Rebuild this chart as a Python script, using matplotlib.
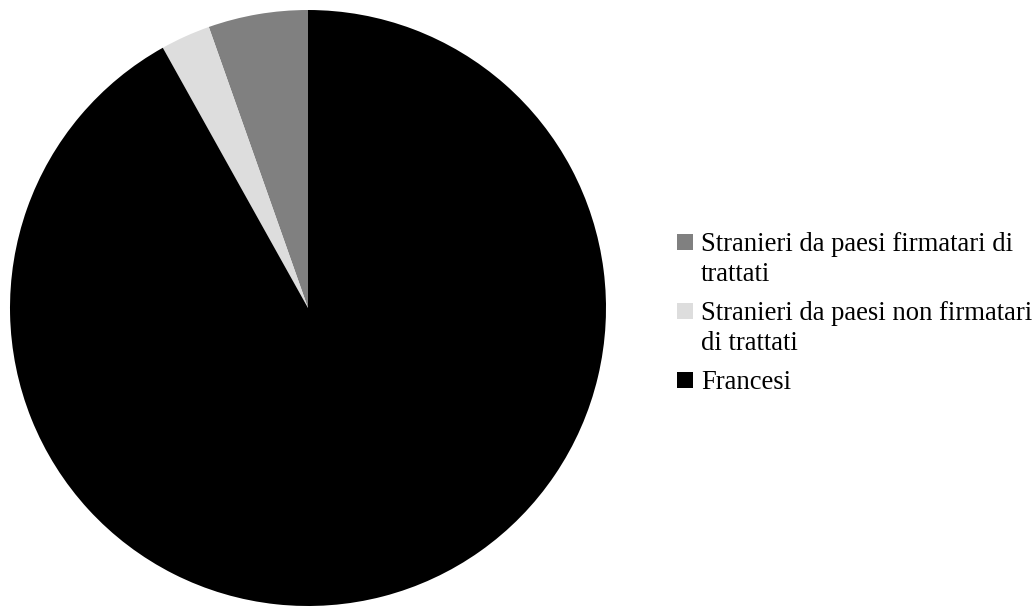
import matplotlib.pyplot as plt
from matplotlib.patches import Rectangle

plt.rcParams['font.family'] = ['Liberation Serif', 'DejaVu Serif']

# shares (%)
labels = ['Stranieri da paesi firmatari di\ntrattati',
          'Stranieri da paesi non firmatari\ndi trattati',
          'Francesi']
values = [5.4, 2.7, 91.9]
colors = ['#808080', '#dddddd', '#000000']

W, H = 1035, 607
fig = plt.figure(figsize=(W / 100, H / 100), dpi=100)

# pie: centre (308, 308) px, radius 298 px
ax = fig.add_axes([10 / W, (H - 606) / H, 596 / W, 596 / H])
ax.pie(values, colors=colors, startangle=90, counterclock=True,
       wedgeprops=dict(linewidth=0))
ax.set_xlim(-1, 1)
ax.set_ylim(-1, 1)
ax.set_aspect('equal')
ax.axis('off')

# legend drawn by hand so the box sits on the first line of text
tops = [234, 303, 372]
for label, color, top in zip(labels, colors, tops):
    fig.patches.append(Rectangle((677 / W, (H - top - 16) / H), 16 / W, 16 / H,
                                 transform=fig.transFigure, facecolor=color,
                                 edgecolor='none'))
    fig.text(701 / W, (H - top + 2) / H, label, fontsize=19.2, va='top',
             ha='left', linespacing=1.27)

fig.savefig('out.png', dpi=100)
